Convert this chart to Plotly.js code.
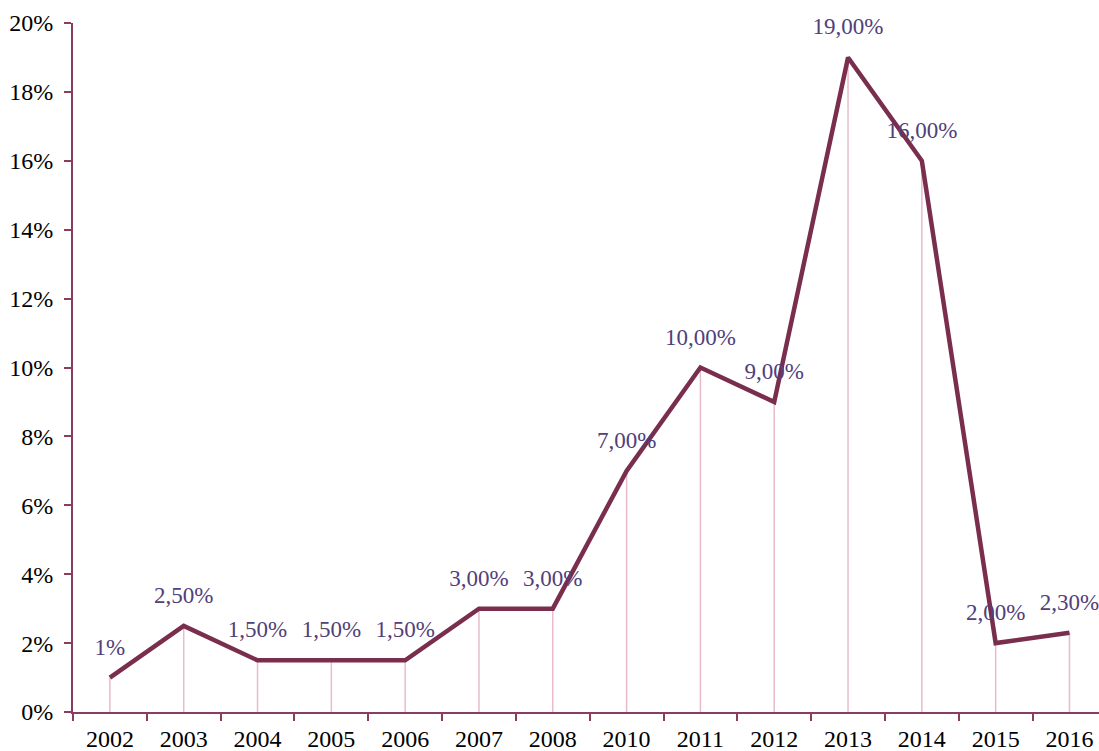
<!DOCTYPE html>
<html>
<head>
<meta charset="utf-8">
<script src="https://cdn.plot.ly/plotly-3.0.1.min.js"></script>
<style>html,body{margin:0;padding:0;background:#fff;}#chart{width:1099px;height:751px;}</style>
</head>
<body>
<div id="chart"></div>
<script>
const years = ["2002","2003","2004","2005","2006","2007","2008","2010","2011","2012","2013","2014","2015","2016"];
const values = [1, 2.5, 1.5, 1.5, 1.5, 3, 3, 7, 10, 9, 19, 16, 2, 2.3];
const labels = ["1%","2,50%","1,50%","1,50%","1,50%","3,00%","3,00%","7,00%","10,00%","9,00%","19,00%","16,00%","2,00%","2,30%"];
const yTickVals = [0, 2, 4, 6, 8, 10, 12, 14, 16, 18, 20];
const yTickText = ["0%","2%","4%","6%","8%","10%","12%","14%","16%","18%","20%"];

const FONT = "'Liberation Serif', 'Times New Roman', serif";

const dropX = [], dropY = [];
years.forEach((y, i) => { dropX.push(y, y, null); dropY.push(0, values[i], null); });

const traces = [
  {x: dropX, y: dropY, type: 'scatter', mode: 'lines', line: {color: '#E9BCCB', width: 1.5}, hoverinfo: 'skip', showlegend: false, connectgaps: false},
  {x: years, y: values, type: 'scatter', mode: 'lines', line: {color: '#7A2E4E', width: 4.5}, showlegend: false},
  {x: years, y: values, type: 'scatter', mode: 'markers+text', text: labels, textposition: 'top center',
   marker: {size: 26, opacity: 0, color: '#fff'}, cliponaxis: false, showlegend: false,
   textfont: {family: FONT, size: 23, color: '#51407A'}}
];

const layout = {
  width: 1099, height: 751,
  margin: {l: 73, r: 0, t: 23, b: 39},
  paper_bgcolor: '#fff', plot_bgcolor: '#fff',
  font: {family: FONT, size: 24, color: '#000'},
  xaxis: {
    type: 'category', range: [-0.5, 13.4], showgrid: false, zeroline: false,
    showline: true, linecolor: '#8A3D5E', linewidth: 2,
    ticks: 'outside', tickson: 'boundaries', ticklen: 7, tickwidth: 2, tickcolor: '#8A3D5E',
    ticklabelstandoff: 4,
    tickfont: {family: FONT, size: 24, color: '#000'}
  },
  yaxis: {
    range: [0, 20], tickvals: yTickVals, ticktext: yTickText, showgrid: false, zeroline: false,
    showline: true, linecolor: '#8A3D5E', linewidth: 2,
    ticks: 'outside', ticklen: 7, tickwidth: 2, tickcolor: '#8A3D5E',
    ticklabelstandoff: 6,
    tickfont: {family: FONT, size: 24, color: '#000'}
  }
};

Plotly.newPlot('chart', traces, layout, {displayModeBar: false, staticPlot: true});
</script>
</body>
</html>
